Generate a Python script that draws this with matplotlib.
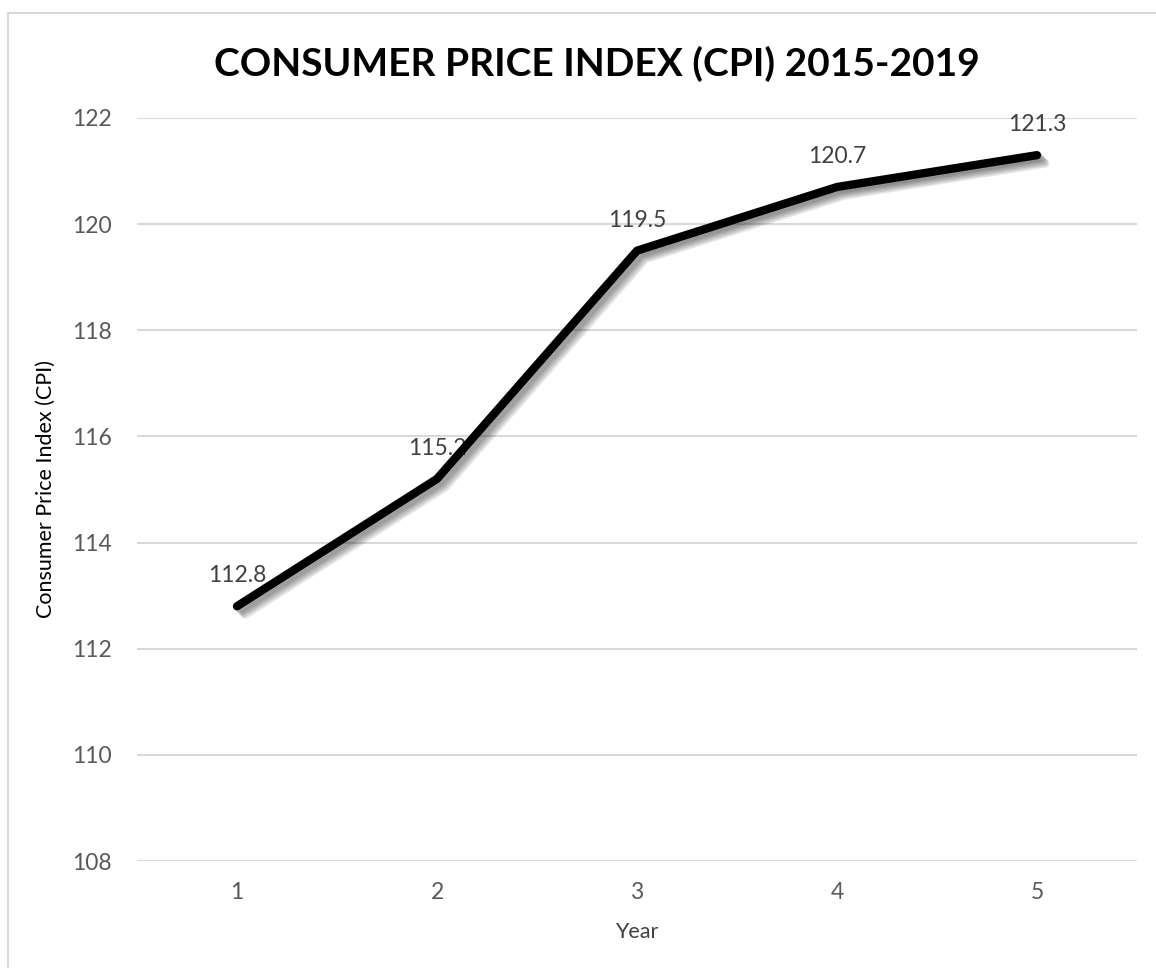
import matplotlib
matplotlib.use("Agg")
import matplotlib.pyplot as plt
import matplotlib.patheffects as pe
from matplotlib.patches import Rectangle

# data
years = [1, 2, 3, 4, 5]
cpi = [112.8, 115.2, 119.5, 120.7, 121.3]
year_labels = ["1", "2", "3", "4", "5"]
y_ticks = [108, 110, 112, 114, 116, 118, 120, 122]

plt.rcParams['font.family'] = ['Lato', 'DejaVu Sans']

fig = plt.figure(figsize=(11.56, 9.68), dpi=100)
ax = fig.add_axes([137/1156, 107/968, 1000/1156, 743/968])

# chart border (only left/top visible, rest cropped)
fig.patches.append(Rectangle((8/1156, -0.1), 1.2, (968-13)/968 + 0.1,
                             transform=fig.transFigure, fill=False,
                             edgecolor='#d9d9d9', linewidth=1.5))

shadow = [pe.SimpleLineShadow(offset=(d, -d), shadow_color='black', alpha=0.1)
          for d in (1, 2, 3, 4, 5, 6)]
ax.plot(years, cpi, color='black', linewidth=6, solid_capstyle='round',
        solid_joinstyle='round', zorder=3,
        path_effects=shadow + [pe.Normal()])

for x, v in zip(years, cpi):
    ax.annotate(f"{v}", (x, v), xytext=(0, 22), textcoords='offset points',
                ha='center', va='center', fontsize=16.5, color='#404040', zorder=2)

ax.set_xlim(0.5, 5.5)
ax.set_ylim(108, 122)
ax.set_xticks(years)
ax.set_xticklabels(year_labels)
ax.set_yticks(y_ticks)
ax.tick_params(axis='both', length=0, labelsize=16.5, labelcolor='#595959')
ax.tick_params(axis='x', pad=15)
ax.tick_params(axis='y', pad=18)
ax.grid(axis='y', color='#d9d9d9', linewidth=1.5)
ax.set_axisbelow(True)
for s in ax.spines.values():
    s.set_visible(False)

ax.set_xlabel('Year', fontsize=15.5, color='#404040', labelpad=14)
ax.set_ylabel('Consumer Price Index (CPI)', fontsize=15.5, color='black', labelpad=12)

fig.text(597/1156, 1 - 64/968, 'CONSUMER PRICE INDEX (CPI) 2015-2019',
         ha='center', va='center', fontsize=28, fontweight='bold', color='black')

fig.savefig('out.png', dpi=100)
